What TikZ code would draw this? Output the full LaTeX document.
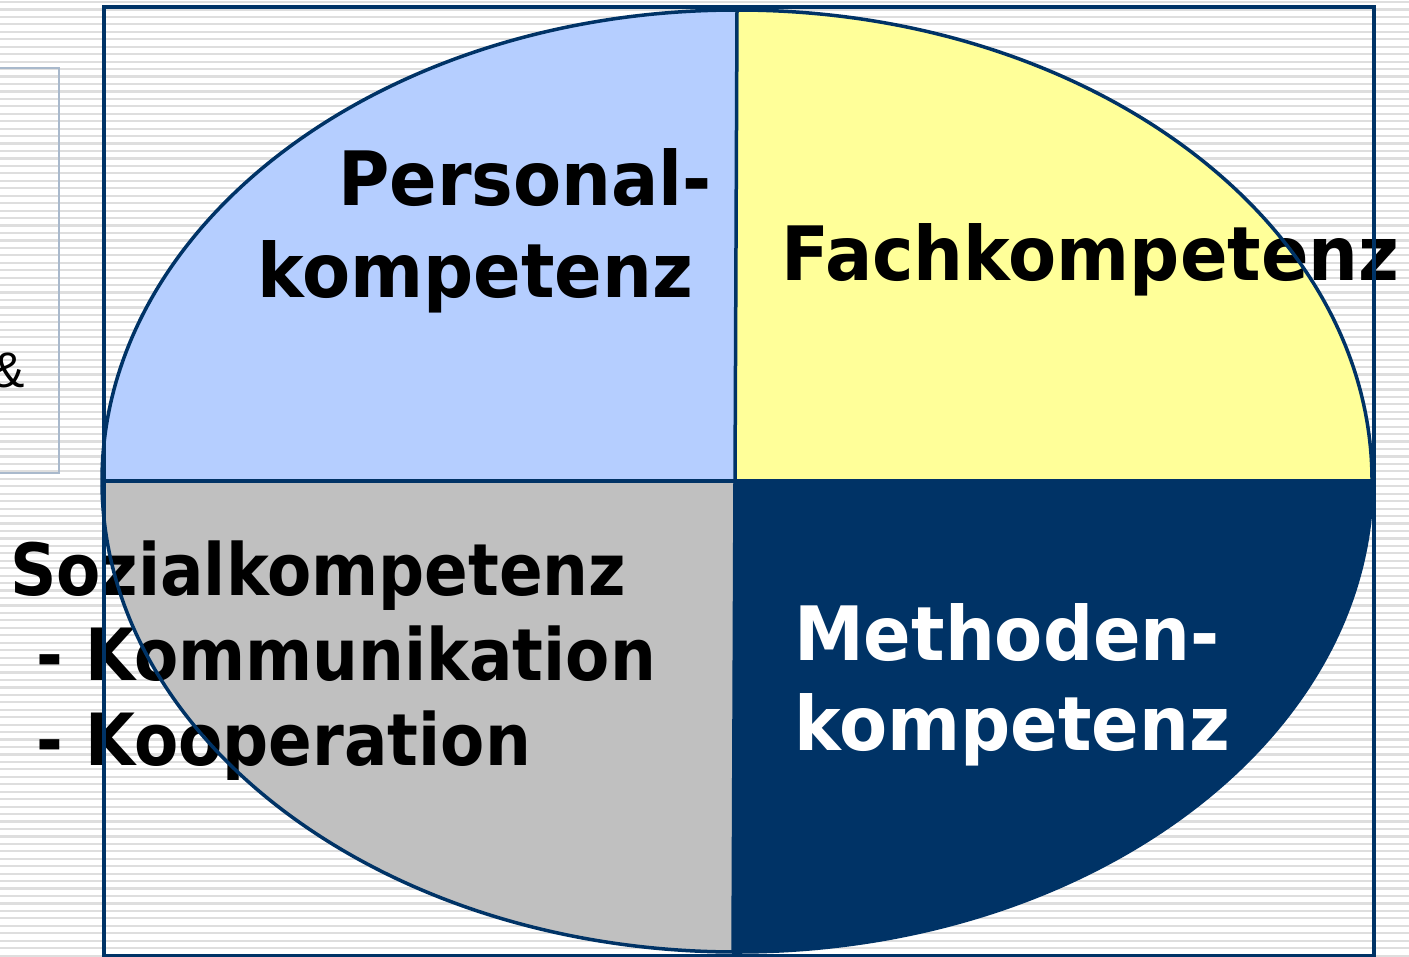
\documentclass[tikz,border=0pt]{standalone}
\usepackage{fontspec}
\newfontfamily\lblfont[FakeStretch=0.935]{DejaVu Sans}
\newfontfamily\lblfontsm[FakeStretch=0.895]{DejaVu Sans}
\newfontfamily\ampfont{Liberation Sans}
\definecolor{navy}{HTML}{003366}
\definecolor{lblue}{HTML}{B5CEFF}
\definecolor{lyellow}{HTML}{FFFF99}
\definecolor{lgray}{HTML}{C0C0C0}
\definecolor{stripe}{HTML}{DEDEDE}
\definecolor{boxedge}{HTML}{A9B9CC}
\tikzset{
  lbl/.style={anchor=base west, inner sep=0pt, font=\lblfont\bfseries\fontsize{75bp}{90bp}\selectfont},
  lblsm/.style={anchor=base west, inner sep=0pt, font=\lblfontsm\bfseries\fontsize{72bp}{86bp}\selectfont},
  outline/.style={draw=navy, line width=3.5bp},
}
\begin{document}
\begin{tikzpicture}[x=1bp,y=-1bp]
\useasboundingbox (0,0) rectangle (1409,956);
\fill[white] (0,0) rectangle (1409,956);
\foreach \i in {0,...,128}{
  \draw[stripe, line width=2.2bp] (0,{2+\i*7.45}) -- (1409,{2+\i*7.45});
}
% left box
\draw[boxedge, line width=2bp] (-5,68) -- (59,68) -- (59,473) -- (-5,473);
\node[anchor=base west, inner sep=0pt, font=\ampfont\fontsize{50bp}{60bp}\selectfont] (amp) at (-9,387) {\&};
% quadrants
\begin{scope}
  \clip (737,481) ellipse [x radius=635, y radius=471];
  \fill[lblue] (735,481) rectangle (0,0);
  \fill[lyellow] (735,481) rectangle (1409,0);
  \fill[lgray] (735,481) rectangle (0,956);
  \fill[navy] (735,481) rectangle (1409,956);
\end{scope}
% labels
\node[lbl] (pers1) at (338,205) {Personal-};
\node[lbl] (pers2) at (257,297) {kompetenz};
\node[lbl] (fach) at (781,280) {Fachkompetenz};
\node[lblsm] (soz1) at (10,595) {Sozialkompetenz};
\node[lblsm] (soz2) at (36,680) {- Kommunikation};
\node[lblsm] (soz3) at (36,765) {- Kooperation};
\node[lbl, text=white] (meth1) at (794,660) {Methoden-};
\node[lbl, text=white] (meth2) at (794,750) {kompetenz};
% outlines
\draw[outline] (737,481) ellipse [x radius=635, y radius=471];
\draw[outline] (102,481) -- (1372,481);
\draw[outline] (737,10) -- (733,952);
\draw[navy, line width=4bp] (104,7) rectangle (1374,956);
\end{tikzpicture}
\end{document}
